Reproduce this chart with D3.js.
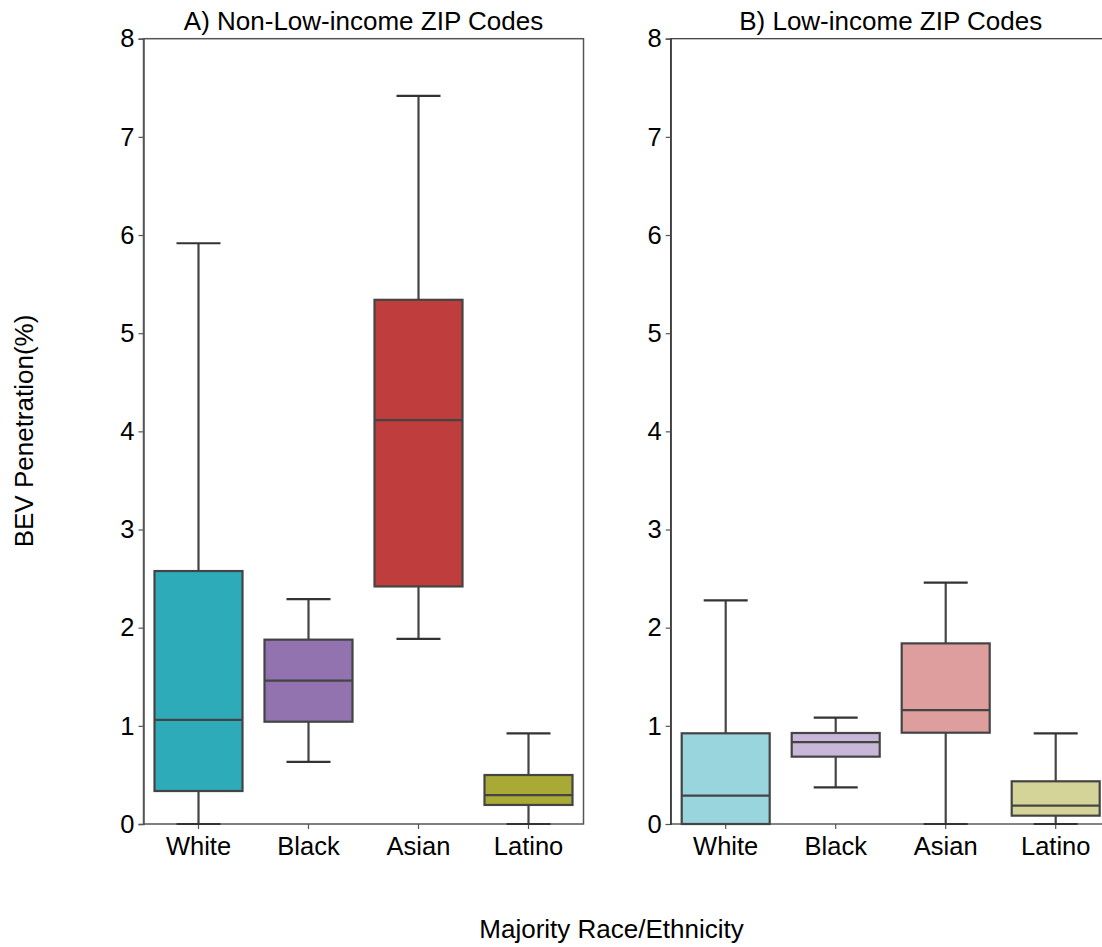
<!DOCTYPE html>
<html>
<head>
<meta charset="utf-8">
<script src="https://cdn.jsdelivr.net/npm/d3@7"></script>
<style>
  html, body { margin: 0; padding: 0; background: #fff; }
  svg { display: block; font-family: "Liberation Sans", Arial, sans-serif; }
  .tick text { fill: #000; }
</style>
</head>
<body>
<svg id="chart" width="1102" height="947"></svg>
<script>
// categories and tick labels
var groups = ["White", "Black", "Asian", "Latino"];
var yTicks = [0, 1, 2, 3, 4, 5, 6, 7, 8];

// box stats per group: [low whisker, q1, median, q3, high whisker]
var nonLowStats = [
  [0.00, 0.336, 1.06, 2.577, 5.916],
  [0.632, 1.042, 1.46, 1.878, 2.29],
  [1.885, 2.42, 4.115, 5.34, 7.417],
  [0.00, 0.194, 0.295, 0.499, 0.924]
];
var lowStats = [
  [0.00, 0.00, 0.289, 0.924, 2.279],
  [0.374, 0.686, 0.835, 0.927, 1.083],
  [0.00, 0.93, 1.161, 1.84, 2.459],
  [0.00, 0.085, 0.187, 0.435, 0.924]
];

var nonLowColors = ["#2eabb9", "#9372b0", "#c03d3e", "#a9aa35"];
var lowColors = ["#98d5dc", "#c9b7d9", "#df9e9e", "#d5d498"];

var svg = d3.select("#chart");
var plotTop = 38.7, plotBottom = 824, panelW = 440;

var y = d3.scaleLinear().domain([0, 8]).range([plotBottom, plotTop]);

function drawPanel(x0, title, stats, colors, spine, spineW) {
  var g = svg.append("g");
  var x = d3.scaleBand().domain(groups).range([x0, x0 + panelW]);
  var boxW = x.bandwidth() * 0.8, capW = boxW / 2;

  // frame
  g.append("rect")
    .attr("x", x0).attr("y", plotTop)
    .attr("width", panelW).attr("height", plotBottom - plotTop)
    .attr("fill", "none").attr("stroke", spine).attr("stroke-width", spineW);

  var yAxis = g.append("g")
    .attr("transform", "translate(" + x0 + ",0)")
    .call(d3.axisLeft(y).tickValues(yTicks).tickSize(5).tickPadding(4));
  yAxis.select(".domain").attr("stroke", spine).attr("stroke-width", spineW);
  yAxis.selectAll(".tick line").attr("stroke", "#555").attr("stroke-width", 1.2);
  yAxis.selectAll("text").style("font-size", "25.5px");

  var xAxis = g.append("g")
    .attr("transform", "translate(0," + plotBottom + ")")
    .call(d3.axisBottom(x).tickSize(5).tickPadding(8));
  xAxis.select(".domain").remove();
  xAxis.selectAll(".tick line").attr("stroke", "#555").attr("stroke-width", 1.2);
  xAxis.selectAll("text").style("font-size", "25.5px");

  var box = g.selectAll(".box")
    .data(stats)
    .enter().append("g")
    .attr("class", "box");

  var cx = function (d, i) { return x(groups[i]) + x.bandwidth() / 2; };
  var line = { stroke: "#444", w: 2.2 };

  // whiskers
  box.append("line")
    .attr("x1", cx).attr("x2", cx)
    .attr("y1", function (d) { return y(d[3]); })
    .attr("y2", function (d) { return y(d[4]); })
    .attr("stroke", line.stroke).attr("stroke-width", line.w);
  box.append("line")
    .attr("x1", cx).attr("x2", cx)
    .attr("y1", function (d) { return y(d[1]); })
    .attr("y2", function (d) { return y(d[0]); })
    .attr("stroke", line.stroke).attr("stroke-width", line.w);

  // caps
  [0, 4].forEach(function (k) {
    box.append("line")
      .attr("x1", function (d, i) { return cx(d, i) - capW / 2; })
      .attr("x2", function (d, i) { return cx(d, i) + capW / 2; })
      .attr("y1", function (d) { return y(d[k]); })
      .attr("y2", function (d) { return y(d[k]); })
      .attr("stroke", "#333").attr("stroke-width", line.w);
  });

  // boxes
  box.append("rect")
    .attr("x", function (d, i) { return cx(d, i) - boxW / 2; })
    .attr("y", function (d) { return y(d[3]); })
    .attr("width", boxW)
    .attr("height", function (d) { return y(d[1]) - y(d[3]); })
    .attr("fill", function (d, i) { return colors[i]; })
    .attr("stroke", line.stroke).attr("stroke-width", line.w);

  // medians
  box.append("line")
    .attr("x1", function (d, i) { return cx(d, i) - boxW / 2; })
    .attr("x2", function (d, i) { return cx(d, i) + boxW / 2; })
    .attr("y1", function (d) { return y(d[2]); })
    .attr("y2", function (d) { return y(d[2]); })
    .attr("stroke", line.stroke).attr("stroke-width", line.w);

  g.append("text")
    .attr("x", x0 + panelW / 2).attr("y", 30)
    .attr("text-anchor", "middle")
    .style("font-size", "26px")
    .text(title);
}

drawPanel(143.5, "A) Non-Low-income ZIP Codes", nonLowStats, nonLowColors, "#555", 1.5);
drawPanel(670.7, "B) Low-income ZIP Codes", lowStats, lowColors, "#333", 1.2);

svg.append("text")
  .attr("transform", "translate(33,431) rotate(-90)")
  .attr("text-anchor", "middle")
  .style("font-size", "26px")
  .text("BEV Penetration(%)");

svg.append("text")
  .attr("x", 611.5).attr("y", 938)
  .attr("text-anchor", "middle")
  .style("font-size", "26px")
  .text("Majority Race/Ethnicity");
</script>
</body>
</html>
